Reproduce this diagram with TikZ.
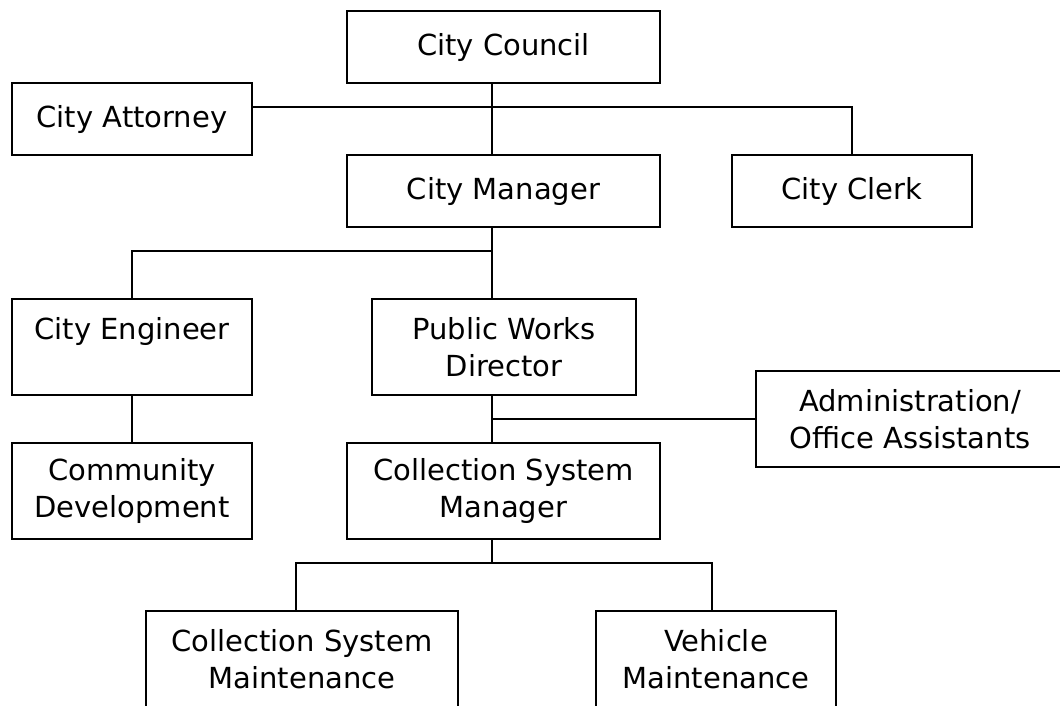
\documentclass[tikz,border=0pt]{standalone}
\usepackage{fontspec}
\setmainfont{DejaVu Sans}
\tikzset{
  box/.style={draw, align=center, inner sep=0pt,
    font=\fontsize{29}{37}\selectfont},
  onerow/.style={box, minimum height=72},
  tworow/.style={box, minimum height=96},
}
\begin{document}
\begin{tikzpicture}[x=1pt,y=-1pt,line width=1.3pt]
	\useasboundingbox (0,0) rectangle (1060,705);
	\node[onerow, minimum width=313] (council) at (503.5,47) {City Council};
	\node[onerow, minimum width=240] (attorney) at (132,119) {City Attorney};
	\node[onerow, minimum width=313] (manager) at (503.5,191) {City Manager};
	\node[onerow, minimum width=240] (clerk) at (852,191) {City Clerk};
	\node[tworow, minimum width=240] (engineer) at (132,347) {City Engineer\\\mbox{}};
	\node[tworow, minimum width=264] (pwd) at (504,347) {Public Works\\Director};
	\node[tworow, minimum width=308] (admin) at (910,419) {Administration/\\Office Assistants};
	\node[tworow, minimum width=240] (commdev) at (132,491) {Community\\Development};
	\node[tworow, minimum width=313] (csm) at (503.5,491) {Collection System\\Manager};
	\node[tworow, minimum width=312] (csmaint) at (302,659) {Collection System\\Maintenance};
	\node[tworow, minimum width=240] (vehicle) at (716,659) {Vehicle\\Maintenance};
	\coordinate (j1) at (492,107);
	\coordinate (j2) at (492,251);
	\coordinate (j3) at (492,419);
	\coordinate (j4) at (492,563);
	\coordinate (j4l) at (296,563);
	\coordinate (j4r) at (712,563);
	\draw (council.south -| j1) -- (manager.north -| j1);
	\draw (attorney.east |- j1) -| (clerk.north);
	\draw (manager.south -| j2) -- (pwd.north -| j2);
	\draw (j2) -| (engineer.north);
	\draw (engineer.south) -- (commdev.north);
	\draw (pwd.south -| j3) -- (csm.north -| j3);
	\draw (j3) -- (admin.west);
	\draw (csm.south -| j4) -- (j4);
	\draw (csmaint.north -| j4l) |- (j4r) -- (vehicle.north -| j4r);
\end{tikzpicture}
\end{document}
